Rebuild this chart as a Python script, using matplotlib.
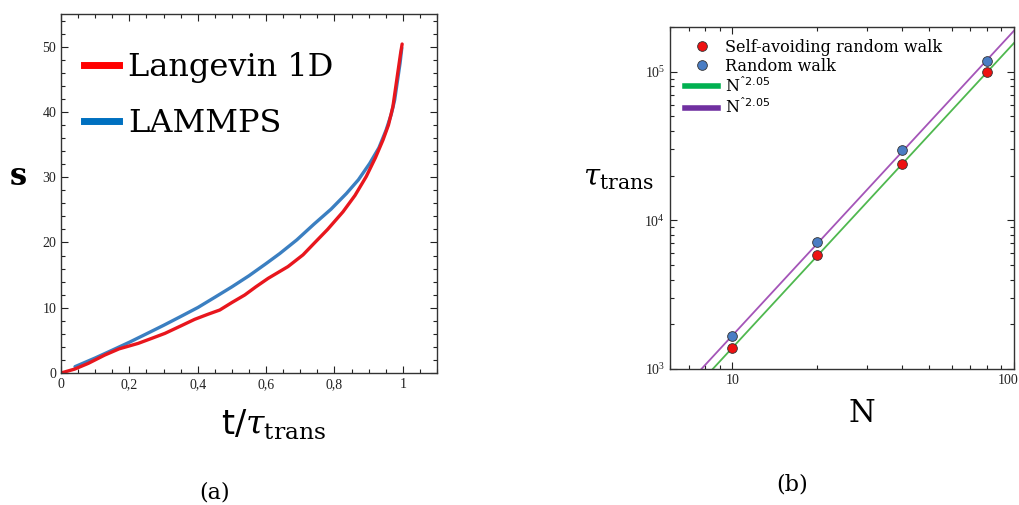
import numpy as np
import matplotlib
matplotlib.use("Agg")
import matplotlib.pyplot as plt
import matplotlib.transforms as mtransforms
from matplotlib.ticker import MultipleLocator, FuncFormatter, LogLocator, NullFormatter
from matplotlib.lines import Line2D

# (a) s vs t/tau_trans
lang_t = [0.0, 0.04, 0.08, 0.128, 0.17, 0.226, 0.265, 0.304, 0.35, 0.391, 0.43, 0.4645,
          0.50, 0.5375, 0.57, 0.606, 0.664, 0.708, 0.742, 0.78, 0.825, 0.86, 0.893,
          0.92, 0.942, 0.958, 0.971, 0.985, 0.993, 0.998]
lang_s = [0.0, 0.6, 1.48, 2.75, 3.7, 4.54, 5.3, 6.07, 7.2, 8.22, 9.0, 9.65,
          10.8, 11.95, 13.2, 14.5, 16.3, 18.1, 19.95, 22.0, 24.7, 27.2, 30.1,
          33.0, 35.7, 38.0, 40.8, 45.9, 48.8, 50.4]
lammps_t = [0.041, 0.1, 0.15, 0.2015, 0.25, 0.3, 0.35, 0.401, 0.45, 0.5, 0.55, 0.601,
            0.64, 0.69, 0.74, 0.79, 0.835, 0.87, 0.903, 0.93, 0.951, 0.966, 0.976,
            0.985, 0.992, 0.997]
lammps_s = [0.97, 2.3, 3.5, 4.75, 6.0, 7.3, 8.65, 10.05, 11.6, 13.2, 14.9, 16.8,
            18.3, 20.4, 22.8, 25.1, 27.5, 29.6, 32.1, 34.5, 37.2, 39.6, 41.8,
            45.0, 47.5, 49.8]

# (b) tau_trans vs N
N_vals = [10, 20, 40, 80]
tau_saw = [1390, 5850, 24000, 100000]
tau_rw = [1665, 7110, 29650, 119000]
fit_exp = 2.05
fit_pref_saw = 12.4
fit_pref_rw = 15.0

plt.rcParams['mathtext.fontset'] = 'dejavuserif'
tick_font = 'Liberation Serif'

fig = plt.figure(figsize=(10.19, 5.05), dpi=100)

# ---------- panel (a) ----------
ax1 = fig.add_axes([61/1019, 132/505, 376/1019, 359/505])
ax1.plot(lammps_t, lammps_s, color='#3b7fc1', lw=2.4, solid_capstyle='round')
ax1.plot(lang_t, lang_s, color='#e8161d', lw=2.4, solid_capstyle='round')
ax1.set_xlim(0, 1.1)
ax1.set_ylim(0, 55)
ax1.xaxis.set_major_locator(MultipleLocator(0.2))
ax1.xaxis.set_minor_locator(MultipleLocator(0.05))
ax1.yaxis.set_major_locator(MultipleLocator(10))
ax1.yaxis.set_minor_locator(MultipleLocator(2))

def comma_fmt(v, pos):
    if abs(v - round(v)) < 1e-9:
        return '%d' % round(v)
    return ('%.1f' % v).replace('.', ',')
ax1.xaxis.set_major_formatter(FuncFormatter(comma_fmt))

ax1.set_xlabel(r'$\mathsf{t/}\tau_{\mathrm{trans}}$', fontsize=24, va='center')
ax1.xaxis.set_label_coords(0.566, -0.145)
ax1.set_ylabel('s', fontsize=22, fontweight='bold', family='DejaVu Serif', rotation=0, va='center', ha='center')
ax1.yaxis.set_label_coords(-0.114, 0.546)

ax1.legend(handles=[Line2D([], [], color='#ff0000', lw=5),
                    Line2D([], [], color='#0070c0', lw=5)],
           labels=['Langevin 1D', 'LAMMPS'], loc='upper left',
           bbox_to_anchor=(-0.016, 0.975), frameon=False,
           prop={'family': 'DejaVu Serif', 'size': 23},
           handlelength=1.1, handletextpad=0.3, labelspacing=0.8)

# ---------- panel (b) ----------
ax2 = fig.add_axes([670/1019, 136/505, 344/1019, 342/505])
ax2.set_xscale('log')
ax2.set_yscale('log')
ax2.set_xlim(6, 100)
ax2.set_ylim(1e3, 2e5)
n_grid = np.logspace(np.log10(6), 2, 50)
ax2.plot(n_grid, fit_pref_saw * n_grid**fit_exp, color='#4fb84f', lw=1.3)
ax2.plot(n_grid, fit_pref_rw * n_grid**fit_exp, color='#a455b8', lw=1.3)
ax2.plot(N_vals, tau_saw, 'o', color='#ee1111', mec='#333333', mew=0.6, ms=7, zorder=5)
ax2.plot(N_vals, tau_rw, 'o', color='#4a7dc4', mec='#333333', mew=0.6, ms=7, zorder=5)
ax2.set_xticks([10, 100])
ax2.xaxis.set_major_formatter(FuncFormatter(lambda v, p: '%d' % round(v)))
ax2.xaxis.set_minor_formatter(NullFormatter())
ax2.yaxis.set_minor_locator(LogLocator(base=10, subs=np.arange(2, 10), numticks=20))
ax2.yaxis.set_minor_formatter(NullFormatter())

ax2.set_xlabel('N', fontsize=22, family='DejaVu Serif', va='center')
ax2.xaxis.set_label_coords(0.558, -0.129)
ax2.set_ylabel(r'$\tau_{\mathrm{trans}}$', fontsize=21, rotation=0, va='center', ha='center')
ax2.yaxis.set_label_coords(-0.151, 0.558)

saw_h = Line2D([], [], marker='o', ls='', color='#ee1111', mec='#333333', mew=0.6, ms=7)
rw_h = Line2D([], [], marker='o', ls='', color='#4a7dc4', mec='#333333', mew=0.6, ms=7)
g_h = Line2D([], [], color='#00b050', lw=4)
p_h = Line2D([], [], color='#7030a0', lw=4)
ax2.legend(handles=[saw_h, rw_h, g_h, p_h],
           labels=['Self-avoiding random walk', 'Random walk',
                   r'N$^{\mathsf{ˆ2.05}}$', r'N$^{\mathsf{ˆ2.05}}$'],
           loc='upper left', bbox_to_anchor=(0.003, 1.008), frameon=False,
           prop={'family': 'DejaVu Serif', 'size': 11.5},
           handlelength=2.05, handletextpad=0.45, labelspacing=0.12)

for ax in (ax1, ax2):
    ax.tick_params(which='both', direction='in', top=True, right=True,
                   colors='#222222', labelsize=10, width=0.8)
    ax.tick_params(which='major', length=5)
    ax.tick_params(which='minor', length=3)
    for lab in ax.get_xticklabels() + ax.get_yticklabels():
        lab.set_family(tick_font)
    for sp in ax.spines.values():
        sp.set_color('#333333')
        sp.set_linewidth(1.0)

# last tick label sits at the figure edge; nudge it inside
last = ax2.get_xticklabels()[-1]
last.set_transform(last.get_transform() + mtransforms.ScaledTranslation(-6/100, 0, fig.dpi_scale_trans))

fig.text(215/1019, 1 - 492/505, '(a)', fontsize=16, family='DejaVu Serif', ha='center', va='center')
fig.text(792/1019, 1 - 484/505, '(b)', fontsize=16, family='DejaVu Serif', ha='center', va='center')

plt.savefig('out.png', dpi=100)
